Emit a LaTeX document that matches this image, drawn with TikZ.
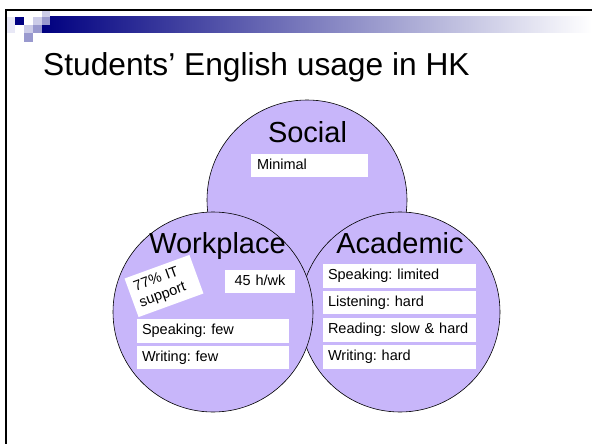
\documentclass[tikz,border=0pt]{standalone}
\usepackage{fontspec}
\setmainfont{Liberation Sans}
\frenchspacing
\definecolor{venn}{RGB}{200,182,250}
\definecolor{navyc}{RGB}{0,0,128}
\definecolor{sqlight}{RGB}{204,204,232}
\definecolor{sqmed}{RGB}{153,153,206}
\definecolor{sqpale}{RGB}{232,232,246}
\tikzset{
  vcircle/.style={circle, draw=black, line width=0.6pt, fill=venn, minimum size=200pt, inner sep=0pt},
  biglabel/.style={anchor=base, font=\fontsize{29}{34}\selectfont},
  wbox/.style={fill=white, inner xsep=5pt, inner ysep=0pt, align=left,
    text height=10.5pt, text depth=3pt, minimum height=24pt,
    font=\fontsize{14.5}{17}\selectfont},
  rbox/.style={fill=white, inner xsep=6pt, inner ysep=4pt, align=left,
    font=\fontsize{14.5}{17}\selectfont}
}
\begin{document}
\begin{tikzpicture}[x=1pt,y=-1pt]
\useasboundingbox (0,0) rectangle (592,444);
\fill[white] (0,0) rectangle (592,444);
% header decoration
\shade[left color=navyc, right color=white, shading=axis] (42,17) rectangle (592,33);
\fill[sqlight] (42,9) rectangle (50,17);
\fill[sqpale] (7,17) rectangle (15,25);
\fill[navyc] (15,17) rectangle (24,25);
\fill[sqlight] (33,17) rectangle (42,25);
\fill[sqmed] (42,17) rectangle (50,25);
\fill[sqpale] (7,25) rectangle (15,33);
\fill[sqlight] (24,25) rectangle (33,33);
\fill[sqmed] (33,25) rectangle (42,33);
\fill[sqmed] (24,33) rectangle (33,42);
\draw[line width=2pt] (6,444) -- (6,10) -- (592,10);
% title
\node[anchor=base west, inner sep=0pt, font=\fontsize{31.7}{38}\selectfont] (title) at (43,76) {Students’ English usage in HK};
% circles
\node[vcircle] (social) at (307,200) {};
\node[vcircle] (academic) at (400,312) {};
\node[vcircle] (workplace) at (213,312) {};
% circle labels
\node[biglabel] (socialL) at (307.5,142) {Social};
\node[biglabel] (workL) at (217.5,253) {Workplace};
\node[biglabel] (acadL) at (400,253) {Academic};
% social box
\node[wbox, text width=105pt, inner xsep=6pt, minimum height=23pt] (minimal) at (309.5,165.5) {Minimal};
% workplace boxes
\node[rbox, rotate=20, text width=57pt, minimum height=41pt] (it) at (164,286) {77\% IT\\support};
\node[wbox, text width=70pt, inner xsep=0pt, align=center, minimum height=23pt] (hours) at (260,281.5) {45 h/wk};
\node[wbox, text width=142pt] (wspeak) at (213,331) {Speaking: few};
\node[wbox, text width=142pt, minimum height=23pt] (wwrite) at (213,357.5) {Writing: few};
% academic boxes
\node[wbox, text width=143pt] (aspeak) at (399.5,276) {Speaking: limited};
\node[wbox, text width=143pt, minimum height=23pt] (alisten) at (399.5,302.5) {Listening: hard};
\node[wbox, text width=143pt] (aread) at (399.5,330) {Reading: slow \& hard};
\node[wbox, text width=143pt] (awrite) at (399.5,357) {Writing: hard};
\end{tikzpicture}
\end{document}
